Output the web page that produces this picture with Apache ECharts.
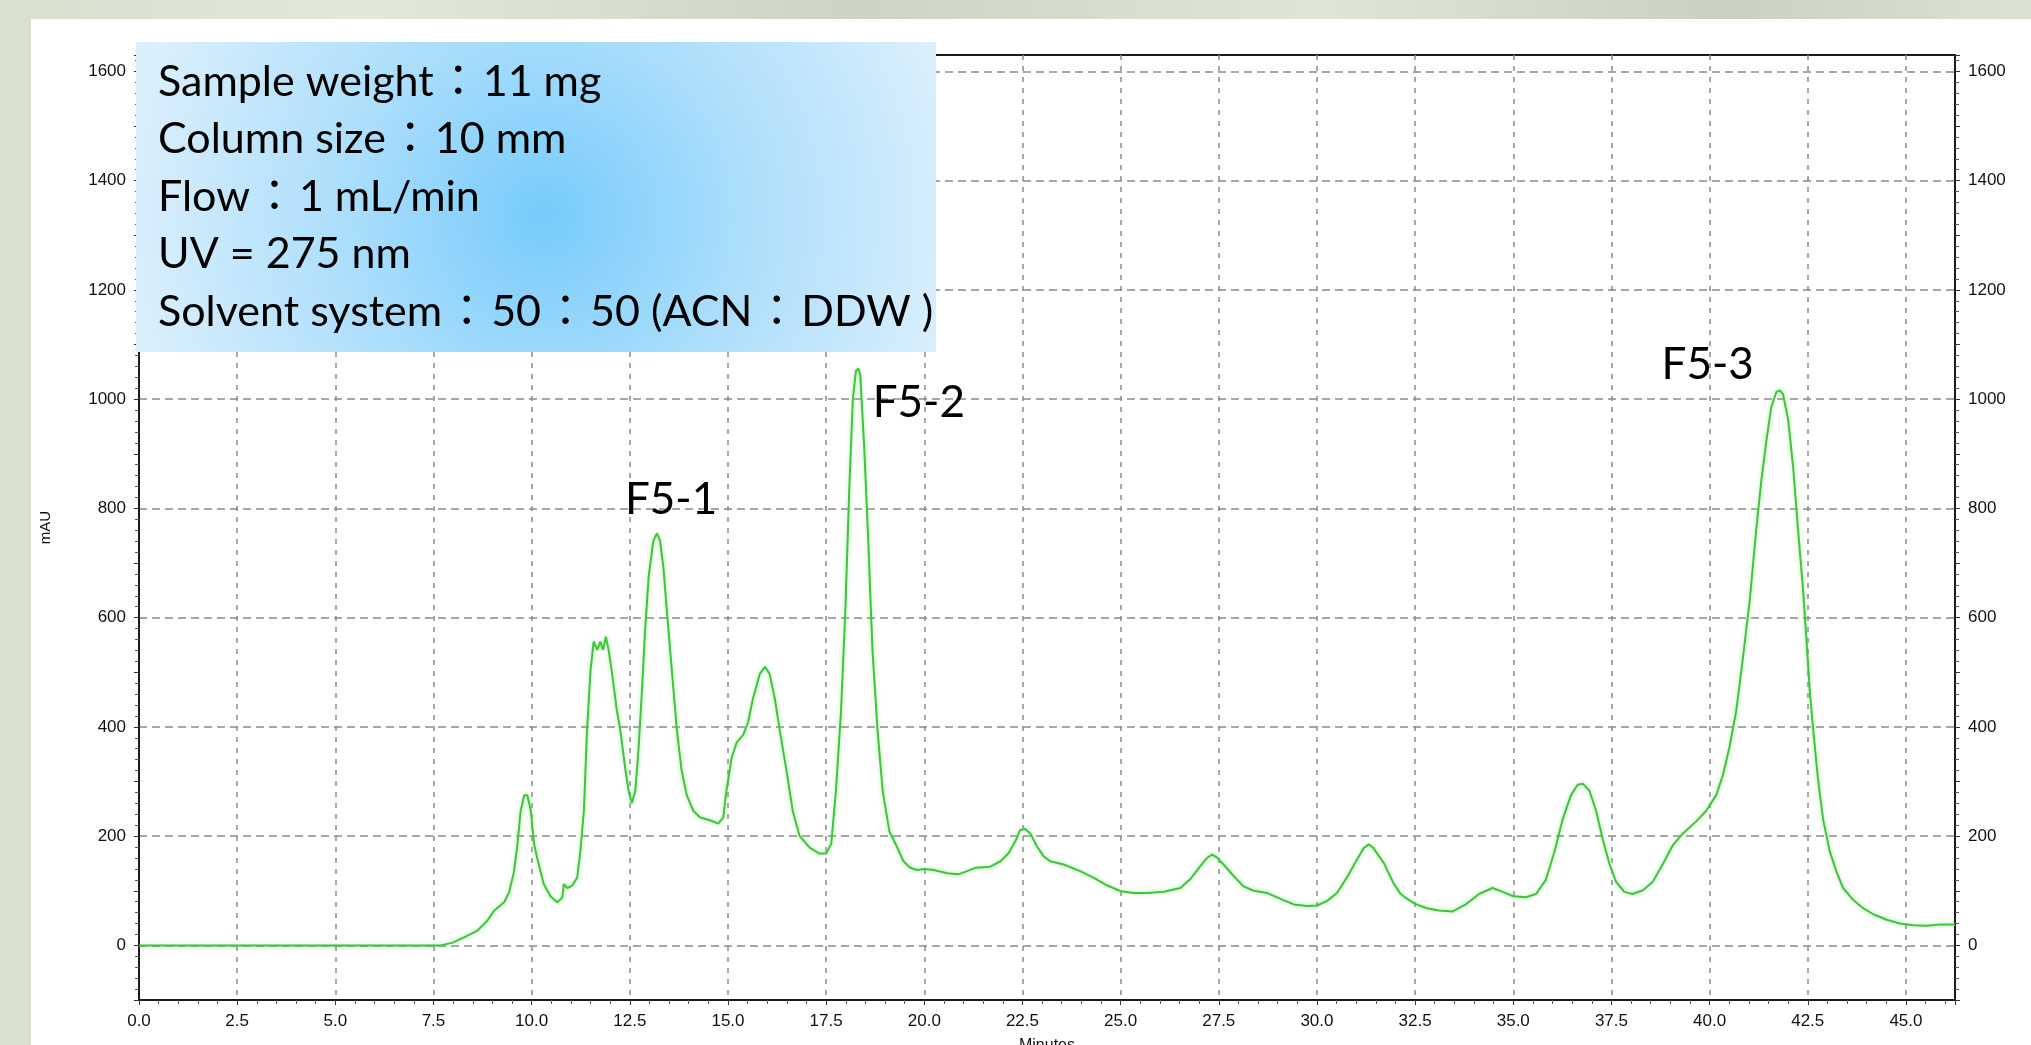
<!DOCTYPE html>
<html>
<head>
<meta charset="utf-8">
<script src="https://cdn.jsdelivr.net/npm/echarts@6/dist/echarts.min.js"></script>
<style>
html, body { margin: 0; padding: 0; width: 2031px; height: 1045px; overflow: hidden; }
body { background: linear-gradient(90deg, #d6e0cd 0%, #e2e9d9 18%, #ccd4c5 42%, #dfe6d6 65%, #c9d1c3 85%, #dbe3d2 100%); }
#panel { position: absolute; left: 31px; top: 19px; right: 0; bottom: 0; background: #fff; }
#main { position: absolute; left: 0; top: 0; width: 2031px; height: 1045px; }
</style>
</head>
<body>
<div id="panel"></div>
<div id="main"></div>
<script>
// retention time (min) and detector response (mAU)
var retentionTime = [0, 7.69, 7.99, 8.29, 8.62, 8.88, 9.05, 9.30, 9.43, 9.55, 9.64, 9.72, 9.81, 9.89, 9.98,
  10.06, 10.15, 10.31, 10.48, 10.65, 10.78, 10.82, 10.91, 11.03, 11.16, 11.24, 11.33, 11.41, 11.50, 11.58,
  11.67, 11.75, 11.82, 11.89, 11.96, 12.05, 12.17, 12.26, 12.39, 12.47, 12.55, 12.64, 12.72, 12.81, 12.89,
  12.98, 13.10, 13.19, 13.27, 13.36, 13.44, 13.57, 13.70, 13.82, 13.95, 14.12, 14.29, 14.54, 14.75, 14.88,
  14.96, 15.09, 15.22, 15.39, 15.51, 15.64, 15.81, 15.94, 16.06, 16.19, 16.32, 16.49, 16.65, 16.82, 17.08,
  17.33, 17.50, 17.63, 17.75, 17.88, 17.99, 18.09, 18.18, 18.26, 18.32, 18.37, 18.47, 18.56, 18.68, 18.81,
  18.94, 19.11, 19.30, 19.47, 19.64, 19.81, 20.0, 20.24, 20.58, 20.87, 21.09, 21.30, 21.68, 21.94, 22.15,
  22.32, 22.44, 22.57, 22.70, 22.87, 23.04, 23.21, 23.55, 23.97, 24.31, 24.65, 25.01, 25.33, 25.67, 26.10,
  26.52, 26.77, 27.03, 27.20, 27.33, 27.45, 27.62, 27.88, 28.13, 28.39, 28.73, 29.07, 29.41, 29.75, 30.0,
  30.25, 30.51, 30.76, 31.02, 31.19, 31.32, 31.44, 31.70, 31.95, 32.12, 32.3, 32.5, 32.8, 33.11, 33.45,
  33.79, 34.13, 34.47, 34.73, 35.0, 35.32, 35.58, 35.83, 36.05, 36.26, 36.47, 36.64, 36.77, 36.94, 37.11,
  37.28, 37.45, 37.62, 37.83, 38.04, 38.30, 38.55, 38.81, 39.06, 39.32, 39.66, 39.91, 40.17, 40.34, 40.51,
  40.68, 40.85, 41.02, 41.19, 41.32, 41.45, 41.57, 41.70, 41.79, 41.87, 42.0, 42.13, 42.25, 42.38, 42.47,
  42.55, 42.64, 42.76, 42.89, 43.06, 43.23, 43.40, 43.66, 43.91, 44.17, 44.51, 44.85, 45.19, 45.53, 45.87, 46.25];

var absorbance = [0, 0, 5, 15, 27, 46, 64, 79, 98, 135, 186, 246, 275, 275, 246,
  186, 157, 112, 90, 79, 87, 112, 105, 109, 124, 172, 246, 393, 504, 556,
  541, 556, 541, 565, 541, 497, 430, 393, 320, 283, 260, 283, 357, 467, 578,
  675, 741, 754, 741, 689, 615, 504, 393, 320, 275, 246, 234, 229, 223, 234,
  283, 342, 371, 386, 408, 453, 497, 510, 497, 453, 393, 320, 246, 201, 179,
  168, 168, 186, 283, 430, 615, 837, 1000, 1052, 1056, 1044, 911, 763, 541, 393,
  283, 209, 181, 154, 142, 138, 140, 138, 132, 130, 136, 142, 144, 154, 169,
  191, 211, 213, 205, 181, 163, 154, 148, 136, 124, 110, 99, 96, 96, 98,
  105, 121, 145, 160, 166, 161, 148, 127, 108, 100, 96, 85, 75, 72, 73,
  81, 96, 124, 157, 178, 185, 178, 151, 114, 95, 85, 76, 68, 64, 62,
  75, 94, 105, 98, 90, 88, 94, 120, 172, 231, 275, 294, 296, 283, 246,
  194, 149, 116, 98, 94, 101, 116, 149, 183, 205, 227, 246, 275, 312, 364,
  430, 527, 630, 763, 852, 926, 985, 1013, 1016, 1009, 963, 874, 763, 652, 556,
  467, 393, 305, 231, 172, 135, 105, 83, 68, 57, 47, 40, 37, 36, 38, 38];

var mauTicks = [0, 200, 400, 600, 800, 1000, 1200, 1400, 1600];

var peakNames = ['F5-1', 'F5-2', 'F5-3'];
var peakLabelTime = [13.55, 19.86, 39.95];
var peakLabelMau = [815, 994, 1063];

var conditionLines = [
  'Sample weight\uFF1A11 mg',
  'Column size\uFF1A10 mm',
  'Flow\uFF1A1 mL/min',
  'UV = 275 nm',
  'Solvent system\uFF1A50\uFF1A50 (ACN\uFF1ADDW )'
];

var textFont = 'Lato, "Noto Sans CJK TC", sans-serif';
var axisFont = 'Liberation Sans';

var chart = echarts.init(document.getElementById('main'));

function mauAxis(pos) {
  return {
    type: 'value',
    position: pos,
    min: -100,
    max: 1630,
    interval: 100,
    name: pos === 'left' ? 'mAU' : '',
    nameLocation: 'middle',
    nameGap: 86,
    nameTextStyle: { fontFamily: axisFont, fontSize: 15, color: '#111' },
    axisLine: { show: true, onZero: false, lineStyle: { color: '#1a1a1a', width: 2 } },
    axisTick: { show: true, length: 5, lineStyle: { color: '#333', width: 1 } },
    minorTick: { show: true, splitNumber: 5, length: 4, lineStyle: { color: '#555', width: 1 } },
    axisLabel: {
      margin: 13,
      fontFamily: axisFont, fontSize: 17, color: '#111',
      formatter: function (v) { return mauTicks.indexOf(v) >= 0 ? String(v) : ''; }
    },
    splitLine: { show: false }
  };
}

var option = {
  animation: false,
  backgroundColor: 'transparent',
  grid: {
    left: 139, right: 76, top: 55, bottom: 45,
    show: true, borderColor: '#1a1a1a', borderWidth: 2,
    containLabel: false, outerBoundsMode: 'none'
  },
  xAxis: {
    type: 'value',
    min: 0,
    max: 46.25,
    interval: 2.5,
    name: 'Minutes',
    nameLocation: 'middle',
    nameGap: 38,
    nameTextStyle: { fontFamily: axisFont, fontSize: 16, color: '#111' },
    axisLine: { onZero: false, lineStyle: { color: '#1a1a1a', width: 2 } },
    axisTick: { length: 5, lineStyle: { color: '#333' } },
    minorTick: { show: true, splitNumber: 5, length: 4, lineStyle: { color: '#555' } },
    axisLabel: {
      margin: 13, fontFamily: axisFont, fontSize: 17, color: '#111',
      formatter: function (v) { return v > 45.01 ? '' : v.toFixed(1); }
    },
    splitLine: {
      show: true, showMinLine: false, showMaxLine: false,
      lineStyle: { type: [5, 6], color: '#8a8a8a', width: 1.5 }
    }
  },
  yAxis: [
    mauAxis('left'),
    mauAxis('right'),
    {
      // carries only the horizontal grid at every 200 mAU
      type: 'value', position: 'left', min: -100, max: 1630, splitNumber: 9,
      axisLine: { show: false }, axisTick: { show: false }, axisLabel: { show: false },
      splitLine: {
        show: true, showMinLine: false, showMaxLine: false,
        lineStyle: { type: [8, 5], color: '#8a8a8a', width: 1.5 }
      }
    }
  ],
  series: [{
    type: 'line',
    yAxisIndex: 0,
    data: retentionTime.map(function (t, i) { return [t, absorbance[i]]; }),
    showSymbol: false,
    lineStyle: { color: '#3fc43a', width: 2, shadowColor: 'rgba(110,225,110,0.6)', shadowBlur: 4 },
    markPoint: {
      symbol: 'circle',
      symbolSize: 0,
      data: peakNames.map(function (n, i) {
        return {
          name: n,
          coord: [peakLabelTime[i], peakLabelMau[i]],
          label: {
            show: true, position: 'inside', formatter: n,
            fontFamily: textFont, fontSize: 44, color: '#000'
          }
        };
      })
    }
  }],
  graphic: [{
    type: 'rect',
    left: 136, top: 42, z: 100,
    shape: { width: 800, height: 310 },
    style: {
      fill: new echarts.graphic.RadialGradient(0.51, 0.56, 1.35, [
        { offset: 0, color: '#76cbfb' },
        { offset: 0.45, color: '#a9ddfb' },
        { offset: 1, color: '#daeffc' }
      ])
    }
  }].concat(conditionLines.map(function (t, i) {
    return {
      type: 'text', z: 101,
      x: 158, y: 82 + i * 57.5,
      style: {
        text: t.replace(/\uFF1A/g, '{c|\uFF1A}'),
        font: '43px ' + textFont, fill: '#000',
        rich: { c: { font: '43px ' + textFont, fill: '#000', padding: [0, 3] } },
        align: 'left', verticalAlign: 'middle',
        textAlign: 'left', textVerticalAlign: 'middle'
      }
    };
  }))
};

chart.setOption(option);
</script>
</body>
</html>
